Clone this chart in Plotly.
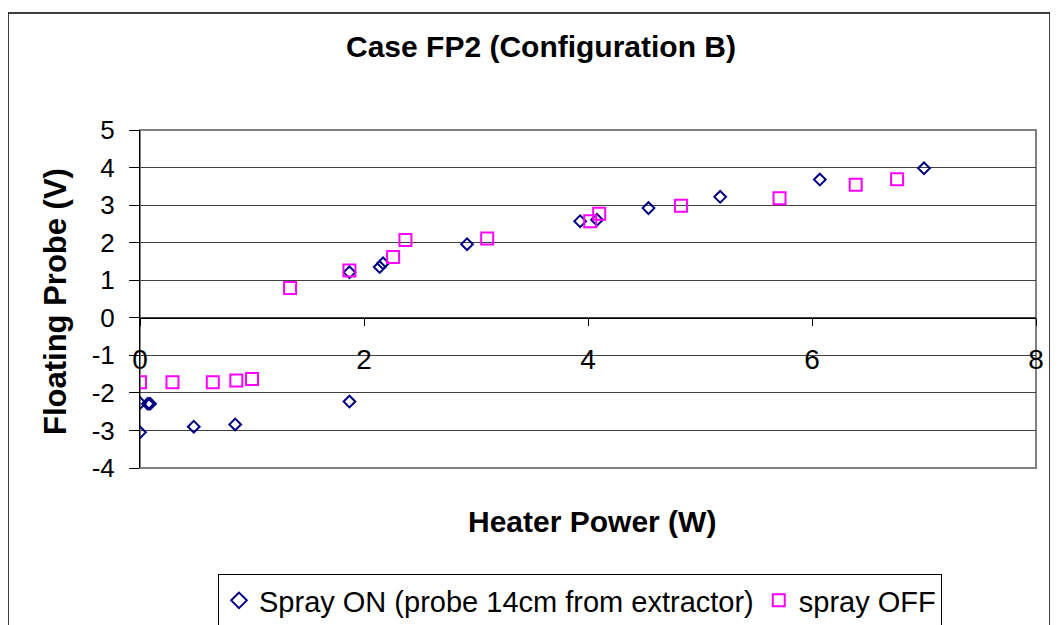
import plotly.graph_objects as go

# Spray ON (probe 14cm from extractor)
on_x = [0.0, 0.0, 0.07, 0.09, 0.48, 0.85, 1.87, 1.87, 2.14, 2.17, 2.92, 3.93, 4.08, 4.54, 5.18, 6.07, 7.0]
on_y = [-2.27, -3.05, -2.29, -2.29, -2.9, -2.84, -2.23, 1.21, 1.35, 1.45, 1.96, 2.57, 2.61, 2.92, 3.22, 3.68, 3.98]

# spray OFF
off_x = [0.0, 0.29, 0.65, 0.86, 1.0, 1.34, 1.87, 2.26, 2.37, 3.10, 4.02, 4.10, 4.83, 5.71, 6.39, 6.76]
off_y = [-1.72, -1.72, -1.72, -1.67, -1.63, 0.79, 1.26, 1.62, 2.07, 2.11, 2.57, 2.77, 2.98, 3.18, 3.54, 3.69]

x_ticks = [0, 2, 4, 6, 8]
y_ticks = [-4, -3, -2, -1, 0, 1, 2, 3, 4, 5]

FONT = "Liberation Sans, Arial, sans-serif"

fig = go.Figure()
fig.add_trace(go.Scatter(
    x=on_x, y=on_y, mode="markers", name="Spray ON (probe 14cm from extractor)",
    marker=dict(symbol="diamond-open", size=9, color="#000080", line=dict(width=2, color="#000080")),
))
fig.add_trace(go.Scatter(
    x=off_x, y=off_y, mode="markers", name="spray OFF",
    marker=dict(symbol="square-open", size=12, color="#FF00FF", line=dict(width=2, color="#FF00FF")),
))

# page body has an 8px margin: figure origin sits at (8, 8) in the window
O = 8
W, H = 1050, 617
# plot area in window pixels: x 140..1036, y 130..468
PL, PR, PT, PB = 140, 1036, 130, 468
L, T = PL - O, PT - O
R = W - (PR - O)
B = H - (PB - O)
pw, ph = PR - PL, PB - PT

def px(xp):
    return (xp - PL) / pw

def py(yp):
    return (PB - yp) / ph

fig.update_layout(
    width=W, height=H,
    margin=dict(l=L, r=R, t=T, b=B, autoexpand=False),
    paper_bgcolor="white", plot_bgcolor="white",
    font=dict(family=FONT, color="black"),
    showlegend=True,
    legend=dict(
        orientation="h", x=px(218), y=py(574), xanchor="left", yanchor="top",
        bordercolor="#000000", borderwidth=1, bgcolor="white",
        font=dict(size=29, family=FONT), itemsizing="constant",
        tracegroupgap=0,
    ),
    xaxis=dict(
        range=[0, 8], tickvals=x_ticks, ticktext=[str(v) for v in x_ticks],
        showgrid=False, zeroline=False,
        showline=True, linecolor="black", linewidth=1,
        ticks="outside", ticklen=7, tickcolor="black",
        anchor="free", position=4 / 9,
        tickfont=dict(size=28, family=FONT), ticklabelstandoff=10,
    ),
    yaxis=dict(
        range=[-4, 5], tickvals=y_ticks, ticktext=[str(v) for v in y_ticks],
        showgrid=True, gridcolor="#404040", gridwidth=1,
        zeroline=False,
        showline=True, linecolor="black", linewidth=1,
        ticks="outside", ticklen=10, tickcolor="black",
        tickfont=dict(size=26, family=FONT), ticklabelstandoff=9,
    ),
    shapes=[
        dict(type="rect", xref="paper", yref="paper", x0=0, x1=1, y0=0, y1=1,
             line=dict(color="#808080", width=2), layer="below"),
        dict(type="rect", xref="paper", yref="paper", x0=px(8), x1=px(1050), y0=py(660), y1=py(13),
             line=dict(color="black", width=1.5), layer="below"),
    ],
    annotations=[
        dict(text="<b>Case FP2 (Configuration B)</b>", xref="paper", yref="paper",
             x=px(541), y=py(47), xanchor="center", yanchor="middle", showarrow=False,
             font=dict(size=30, family=FONT)),
        dict(text="<b>Heater Power (W)</b>", xref="paper", yref="paper",
             x=px(592), y=py(521), xanchor="center", yanchor="middle", showarrow=False,
             font=dict(size=30, family=FONT)),
        dict(text="<b>Floating Probe (V)</b>", xref="paper", yref="paper",
             x=px(55), y=py(302), xanchor="center", yanchor="middle", showarrow=False,
             textangle=-90, font=dict(size=31, family=FONT)),
    ],
)

fig.write_html("out.html")
